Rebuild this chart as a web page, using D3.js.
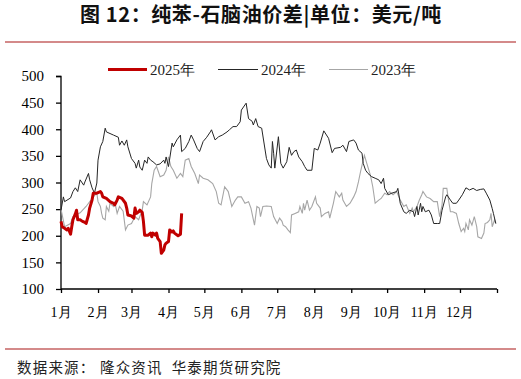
<!DOCTYPE html>
<html><head><meta charset="utf-8">
<script src="https://cdn.jsdelivr.net/npm/d3@7"></script>
<style>
body{margin:0;background:#fff;}
svg{display:block;}
</style></head>
<body>
<svg id="c" width="521" height="379"></svg>
<script>
const title = "图 12：纯苯-石脑油价差|单位：美元/吨";
const source = "数据来源： 隆众资讯  华泰期货研究院";
const seriesNames = ["2025年", "2024年", "2023年"];
const monthLabels = ["1月","2月","3月","4月","5月","6月","7月","8月","9月","10月","11月","12月"];
const monthStartDays = [0,31,59,90,120,151,181,212,243,273,304,334,365];
const yTicks = [100,150,200,250,300,350,400,450,500];

const days2025 = [0,1,3,5,6,8,9,10,12,13,14,16,18,20,21,23,24,26,27,30,33,34,35,38,41,44,45,47,48,51,54,55,56,59,61,62,63,65,66,68,69,70,73,75,76,77,79,80,81,83,84,86,87,88,90,91,93,94,95,98,100,101];
const vals2025 = [227,217,214,211,214,203,217,230,241,248,230,230,227,225,223,239,252,267,280,280,283,280,273,270,264,261,258,267,273,270,261,252,239,237,233,252,242,245,248,244,227,201,201,205,198,205,201,205,195,189,167,173,183,186,189,211,207,209,205,200,203,242];

const days2024 = [0,2,3,8,10,12,14,16,19,20,23,24,26,28,30,31,33,35,37,38,44,48,49,51,53,55,56,59,62,63,65,66,68,70,72,73,75,77,80,83,86,87,88,90,93,94,97,100,101,104,107,109,111,114,116,119,122,125,126,129,132,135,139,141,144,147,150,151,155,157,160,161,163,165,168,172,174,176,177,178,179,182,184,186,189,191,193,195,197,199,202,204,206,210,212,215,217,220,224,227,229,234,236,239,241,245,247,249,252,253,255,257,260,263,266,268,270,271,274,277,281,282,284,287,289,292,295,296,298,299,301,302,303,305,308,310,312,315,317,319,322,323,326,328,331,333,336,339,342,345,348,351,354,356,359,361,362,364];
const vals2024 = [248,273,264,271,283,290,283,305,295,301,317,305,290,280,299,342,367,377,402,395,389,385,370,378,370,380,367,345,336,327,342,329,323,342,336,348,342,339,333,335,342,336,348,330,374,367,380,389,358,364,377,389,380,364,358,377,385,395,399,380,386,389,395,399,405,405,414,436,449,420,415,408,420,405,402,345,333,327,377,355,327,386,336,327,339,366,351,358,361,348,339,330,323,323,364,361,374,397,383,356,364,366,370,358,377,380,374,361,355,336,323,317,311,308,305,298,308,289,277,280,283,289,261,245,242,248,245,236,255,239,261,245,255,245,248,239,223,223,223,248,273,277,267,261,261,267,277,290,286,289,285,287,288,280,267,251,242,223];

const days2023 = [0,3,8,10,16,21,27,30,31,33,34,35,37,38,40,41,44,45,47,49,52,54,56,59,62,65,68,69,72,75,76,78,80,83,86,88,90,92,94,97,100,102,104,107,109,112,115,116,119,123,127,130,132,134,137,140,143,146,148,151,154,157,159,162,164,166,167,169,172,176,178,181,183,185,186,188,190,192,193,196,199,200,202,203,204,206,208,210,213,214,217,218,221,224,225,228,230,233,235,236,239,242,245,247,249,251,253,254,256,259,261,263,266,268,271,273,275,278,281,284,287,289,292,294,295,298,300,302,303,306,309,312,315,317,319,320,323,324,326,328,331,333,335,337,338,339,341,342,344,346,348,349,352,354,355,357,359,360,361,363,364];
const vals2023 = [250,217,223,236,243,255,273,280,264,255,242,233,230,255,246,261,255,264,242,255,246,211,220,223,236,230,248,264,258,273,298,323,330,311,314,323,348,330,323,308,317,311,342,345,330,317,298,314,308,305,298,283,261,258,292,283,255,267,273,273,261,264,252,220,255,252,236,255,256,255,236,223,233,227,220,217,211,206,239,242,245,255,242,261,248,267,248,255,273,261,252,236,242,245,233,261,283,273,280,267,255,261,273,283,301,323,342,351,336,314,292,261,267,270,280,277,283,277,283,267,255,258,242,252,245,255,267,277,283,273,270,264,264,236,258,289,289,273,245,245,242,223,208,214,208,223,211,230,220,236,217,198,195,205,223,225,230,242,217,230,223];

const svg = d3.select("#c");
const x = d3.scaleLinear().domain([0,365]).range([61,497]);
const y = d3.scaleLinear().domain([100,500]).range([289,76]);

// title
svg.append("text").attr("x",261).attr("y",22).attr("text-anchor","middle")
  .attr("font-family","'Noto Sans CJK SC', sans-serif").attr("font-weight","bold")
  .attr("font-size",20).attr("letter-spacing",0.6).attr("fill","#111")
  .style("white-space","pre").text(title);
// separator lines
svg.append("line").attr("x1",5).attr("x2",516).attr("y1",42).attr("y2",42)
  .attr("stroke","#d48a8a").attr("stroke-width",2);
svg.append("line").attr("x1",5).attr("x2",516).attr("y1",349).attr("y2",349)
  .attr("stroke","#d48a8a").attr("stroke-width",2);
// source
svg.append("text").attr("x",17).attr("y",373)
  .attr("font-family","'Noto Sans CJK SC', sans-serif").attr("font-size",14.5)
  .attr("letter-spacing",1.2).attr("fill","#222").style("white-space","pre").text(source);

// y axis
const yAxis = d3.axisLeft(y).tickValues(yTicks).tickSize(5).tickPadding(12);
const gy = svg.append("g").attr("transform","translate(61,0)").call(yAxis);
gy.select(".domain").attr("stroke","#000").attr("stroke-width",1.3).attr("d","M-5,76.5H0V289");
gy.selectAll("line").attr("stroke","#000").attr("stroke-width",1.3);
gy.selectAll("text").attr("font-family","'Liberation Serif', serif").attr("font-size",15).attr("fill","#000");

// x axis
const xAxis = d3.axisBottom(x).tickValues(monthStartDays).tickSize(4).tickFormat("");
const gx = svg.append("g").attr("transform","translate(0,289)").call(xAxis);
gx.select(".domain").attr("stroke","#000").attr("stroke-width",1.5).attr("d","M61,0H497");
gx.selectAll("line").attr("stroke","#000").attr("stroke-width",1.3);
svg.append("g").selectAll("text").data(monthLabels).join("text")
  .attr("x",(d,i)=>x(monthStartDays[i])).attr("y",317).attr("text-anchor","middle")
  .attr("font-family","'Liberation Serif', serif").attr("font-size",14).attr("fill","#000")
  .text(d=>d);

const line = d3.line().x(d=>x(d[0])).y(d=>y(d[1]));
const zip = (a,b)=>a.map((d,i)=>[d,b[i]]);
svg.append("path").datum(zip(days2023,vals2023)).attr("d",line)
  .attr("fill","none").attr("stroke","#a6a6a6").attr("stroke-width",1.1);
svg.append("path").datum(zip(days2024,vals2024)).attr("d",line)
  .attr("fill","none").attr("stroke","#262626").attr("stroke-width",1);
svg.append("path").datum(zip(days2025,vals2025)).attr("d",line)
  .attr("fill","none").attr("stroke","#c00000").attr("stroke-width",3).attr("stroke-linejoin","round");

// legend
const legend = [
  {name:seriesNames[0], color:"#c00000", w:3, x1:108, x2:147, tx:150},
  {name:seriesNames[1], color:"#262626", w:1, x1:218, x2:258, tx:261},
  {name:seriesNames[2], color:"#a6a6a6", w:1.1, x1:329, x2:368, tx:371}
];
const lg = svg.append("g");
legend.forEach(l=>{
  lg.append("line").attr("x1",l.x1).attr("x2",l.x2).attr("y1",69.5).attr("y2",69.5)
    .attr("stroke",l.color).attr("stroke-width",l.w);
  lg.append("text").attr("x",l.tx).attr("y",75)
    .attr("font-family","'Liberation Serif', serif").attr("font-size",15).attr("fill","#222")
    .text(l.name);
});
</script>
</body></html>
